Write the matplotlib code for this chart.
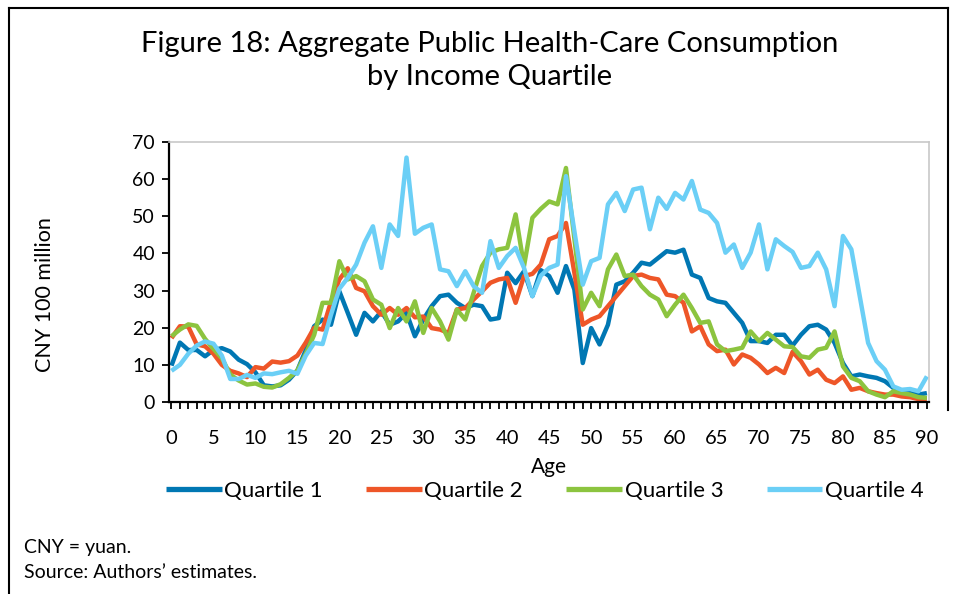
import matplotlib.pyplot as plt
from matplotlib.lines import Line2D
from matplotlib.ticker import MultipleLocator

plt.rcParams['font.family'] = ['Lato', 'DejaVu Sans']

ages = list(range(91))

quartile_1 = [9.8, 16, 14, 14, 12.3, 14, 14.5, 13.6, 11.4, 10.2,
              8, 4.5, 4.2, 4.5, 6, 8.5, 14, 20.4, 22.2, 20.8,
              29.8, 24, 18.1, 24, 21.7, 24.4, 20.8, 21.7, 24, 17.7,
              22.2, 25.8, 28.5, 28.9, 26.7, 25.3, 26.2, 25.8, 22.2, 22.6,
              34.8, 32, 35.2, 28.5, 35.5, 33.9, 29.4, 36.6, 30.3, 10.5,
              19.9, 15.5, 20.8, 31.6, 32.5, 34.8, 37.5, 37, 38.8, 40.6,
              40.2, 41, 34.3, 33.4, 28, 27.1, 26.7, 24, 21.3, 16.4,
              16.4, 15.9, 18.1, 18.1, 15.2, 18.1, 20.4, 20.8, 19.5, 15.9,
              10.5, 6.9, 7.4, 6.9, 6.5, 5.6, 3.8, 2.9, 2.4, 2, 2.4]

quartile_2 = [17.2, 20.4, 20.3, 15.5, 15, 13, 10, 8.4, 7.7, 6.7,
              9.4, 9, 10.9, 10.6, 11, 12.5, 16, 20, 19.5, 27,
              33, 36, 30.7, 29.8, 25.8, 23.5, 25.3, 23.5, 25.3, 22.8,
              23, 19.9, 19.5, 18.6, 24.9, 25.3, 27.6, 29.8, 32.1, 33,
              33.4, 26.7, 33.9, 34.5, 37, 43.8, 44.7, 48.2, 34.8, 20.8,
              22.2, 23.1, 25.8, 28.5, 31.2, 33.9, 34.3, 33.4, 33, 28.9,
              28.5, 26.7, 19, 20.4, 15.5, 13.7, 14.1, 10.1, 12.8, 11.9,
              10.1, 7.8, 9.2, 7.8, 13.5, 11, 7.4, 8.7, 6, 5.1,
              6.9, 3.3, 3.8, 2.9, 2.4, 2, 2, 1.5, 1.3, 0.8, 0.8]

quartile_3 = [17.7, 19.5, 20.9, 20.5, 17, 14.3, 11.8, 7.4, 5.8, 4.7,
              5, 4.1, 3.9, 4.8, 6.5, 8.5, 13, 18.1, 26.7, 26.7,
              37.9, 33, 33.9, 32.5, 27.6, 26.2, 19.9, 25.3, 21.7, 27.1,
              18.6, 25.3, 21.7, 16.8, 24.9, 22.2, 29.4, 36.6, 40.2, 41.1,
              41.5, 50.5, 36.6, 49.6, 52, 54, 53.2, 63, 44, 24.9,
              29.4, 25.8, 35.7, 39.7, 33.9, 34.3, 31.2, 28.9, 27.6, 23.1,
              26.2, 28.9, 25.3, 21.3, 21.7, 15.5, 13.7, 14.1, 14.6, 19,
              16.4, 18.6, 16.8, 15, 14.8, 12.3, 11.9, 14.1, 14.6, 19,
              9.6, 6.5, 5.6, 2.9, 2, 1.3, 2.9, 2.4, 2, 1.3, 1.1]

quartile_4 = [8.4, 10, 13, 15.2, 16.3, 15.7, 12.5, 6.2, 6.2, 7.3,
              6.5, 7.7, 7.5, 8, 8.4, 7.6, 12.5, 15.9, 15.6, 23.5,
              30.5, 33.4, 37, 42.9, 47.3, 36.1, 47.8, 44.7, 65.8, 45.3,
              46.9, 47.8, 35.7, 35.2, 31.2, 35.2, 31.2, 29.4, 43.3, 36.1,
              39.3, 41.5, 36.1, 28.5, 34, 36.1, 37, 60.8, 46, 31.6,
              37.9, 38.8, 53.2, 56.3, 51.4, 57.2, 57.7, 46.5, 55, 52,
              56.3, 54.5, 59.5, 51.8, 50.9, 48.2, 40.2, 42.4, 36.1, 40.2,
              47.8, 35.7, 43.8, 42, 40.4, 36.1, 36.6, 40.2, 35.7, 25.8,
              44.7, 41.1, 28.5, 15.9, 11, 8.7, 4.2, 3.3, 3.5, 2.9, 6.9]

series = [('Quartile 1', quartile_1, '#0077B3'),
          ('Quartile 2', quartile_2, '#EE5628'),
          ('Quartile 3', quartile_3, '#8CC43F'),
          ('Quartile 4', quartile_4, '#6BCFF6')]

fig = plt.figure(figsize=(9.59, 5.94), dpi=100)
ax = fig.add_axes([0.1762, 0.3232, 0.7925, 0.4378])

for name, vals, col in series:
    ax.plot(ages, vals, color=col, lw=3.2, label=name, solid_capstyle='butt')

ax.set_xlim(-0.3, 90.25)
ax.set_ylim(0, 70)
ax.xaxis.set_major_locator(MultipleLocator(5))
ax.xaxis.set_minor_locator(MultipleLocator(1))
ax.yaxis.set_major_locator(MultipleLocator(10))
ax.tick_params(axis='x', which='both', direction='out', length=5, width=1.3,
               labelsize=14.5, pad=15, color='black')
ax.tick_params(axis='y', direction='out', length=5, width=1.3, labelsize=14, pad=5)

for s in ['left', 'bottom']:
    ax.spines[s].set_color('black')
    ax.spines[s].set_linewidth(1.6)
for s in ['top', 'right']:
    ax.spines[s].set_color('#C8C8C8')
    ax.spines[s].set_linewidth(1.2)

ax.set_xlabel('Age', fontsize=15)
ax.xaxis.set_label_coords(0.5, -0.212)

fig.text(0.047, 1 - 295 / 594, 'CNY 100 million', rotation=90,
         ha='center', va='center', fontsize=15.5)

fig.text(0.511, 1 - 44 / 594, 'Figure 18: Aggregate Public Health-Care Consumption',
         ha='center', va='center', fontsize=21)
fig.text(0.511, 1 - 77 / 594, 'by Income Quartile', ha='center', va='center', fontsize=21)

leg = ax.legend(loc='center', bbox_to_anchor=(0.568, 1 - 491 / 594),
                bbox_transform=fig.transFigure, ncol=4, frameon=False, fontsize=16,
                handlelength=2.5, handletextpad=0.12, columnspacing=1.95)
for h in leg.get_lines():
    h.set_linewidth(3.8)

fig.text(0.025, 1 - 548 / 594, 'CNY = yuan.', ha='left', va='center', fontsize=14)
fig.text(0.025, 1 - 573 / 594, 'Source: Authors\u2019 estimates.', ha='left', va='center', fontsize=14)

# outer frame
fig.add_artist(Line2D([0.0094, 0.0094], [0, 0.9865], color='black', lw=1.5))
fig.add_artist(Line2D([0.0094, 0.9885], [0.9865, 0.9865], color='black', lw=1.5))
fig.add_artist(Line2D([0.9885, 0.9885], [0.9865, 0.31], color='black', lw=1.5))

fig.savefig('out.png', dpi=100)
